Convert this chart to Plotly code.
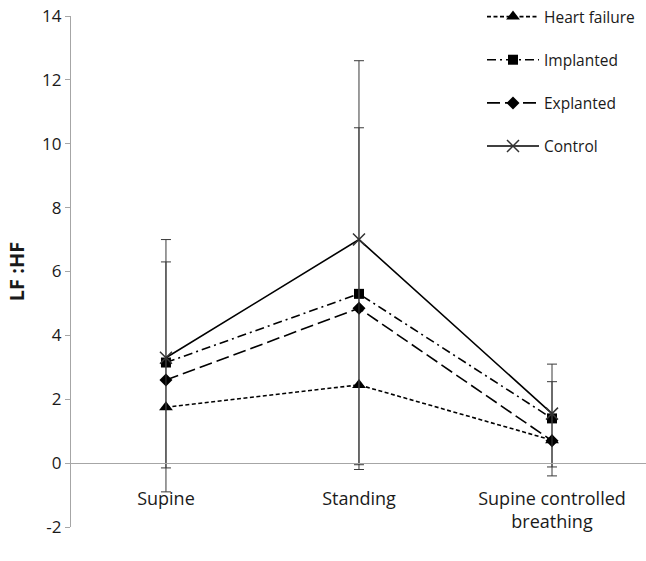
import plotly.graph_objects as go

categories = ["Supine", "Standing", "Supine controlled<br>breathing"]
series_names = ["Heart failure", "Implanted", "Explanted", "Control"]
heart_failure = [1.75, 2.45, 0.72]
implanted = [3.15, 5.3, 1.4]
explanted = [2.6, 4.85, 0.7]
control = [3.3, 7.0, 1.55]
control_err_plus = [3.7, 5.6, 1.55]
control_err_minus = [3.45, 7.2, 1.95]
explanted_err_plus = [3.7, 5.65, 1.85]
explanted_err_minus = [3.5, 4.9, 0.82]
y_ticks = [-2, 0, 2, 4, 6, 8, 10, 12, 14]
y_tick_labels = ["-2", "0", "2", "4", "6", "8", "10", "12", "14"]

W, H = 646, 561
ML, MR, MT, MB = 71, 0, 16, 34
FONT = "Open Sans"

x = list(range(len(categories)))
fig = go.Figure()

def err(plus, minus):
    return dict(type="data", symmetric=False, array=plus, arrayminus=minus,
                color="#3a3a3a", thickness=1, width=5)

styles = [
    (heart_failure, "triangle-up", 12, "4px,2.5px", None),
    (implanted, "square", 10, "9px,4px,2px,4px", None),
    (explanted, "diamond", 10, "13px,5px", err(explanted_err_plus, explanted_err_minus)),
    (control, "x-thin", 12, "solid", err(control_err_plus, control_err_minus)),
]
for name, (vals, sym, size, dash, e) in zip(series_names, styles):
    marker = dict(symbol=sym, size=size, color="black")
    if sym == "x-thin":
        marker["line"] = dict(color="#333333", width=1.5)
    fig.add_trace(go.Scatter(
        x=x, y=vals, name=name, mode="lines+markers", legendgroup=name,
        line=dict(color="black", width=1.6, dash=dash),
        marker=marker, error_y=e,
    ))

plot_h = H - MT - MB
plot_w = W - ML - MR
zero_frac = (0 - y_ticks[0]) / (y_ticks[-1] - y_ticks[0])

fig.update_layout(
    width=W, height=H,
    margin=dict(l=ML, r=MR, t=MT, b=MB, pad=0, autoexpand=False),
    plot_bgcolor="white", paper_bgcolor="white",
    font=dict(family=FONT, color="#1a1a1a"),
    showlegend=True,
    legend=dict(x=(482 - ML) / plot_w, y=1.0 + 16 / plot_h,
                xanchor="left", yanchor="top",
                bgcolor="rgba(0,0,0,0)", font=dict(size=15.5, family=FONT),
                tracegroupgap=20, itemwidth=52),
    xaxis=dict(range=[-0.492, 2.487], tickvals=x, ticktext=categories,
               showgrid=False, zeroline=False, anchor="free", position=zero_frac,
               showline=True, linecolor="#a6a6a6", linewidth=1.2, ticks="",
               automargin=False,
               ticklabelstandoff=19, tickfont=dict(size=18, family=FONT)),
    yaxis=dict(range=[y_ticks[0], y_ticks[-1]], tickvals=y_ticks, ticktext=y_tick_labels,
               showgrid=False,
               zeroline=False, showline=True, linecolor="#a6a6a6", linewidth=1.2,
               ticks="outside", ticklen=5, tickcolor="#a6a6a6", automargin=False,
               ticklabeloverflow="allow",
               tickfont=dict(size=17, family=FONT),
               title=dict(text="<b>LF :HF</b>", font=dict(size=20, family=FONT), standoff=12)),
)

fig.write_html(
    "out.html",
    config={"displayModeBar": False},
    post_script="document.documentElement.style.margin='0';document.body.style.margin='0';document.body.style.overflow='hidden';",
)
